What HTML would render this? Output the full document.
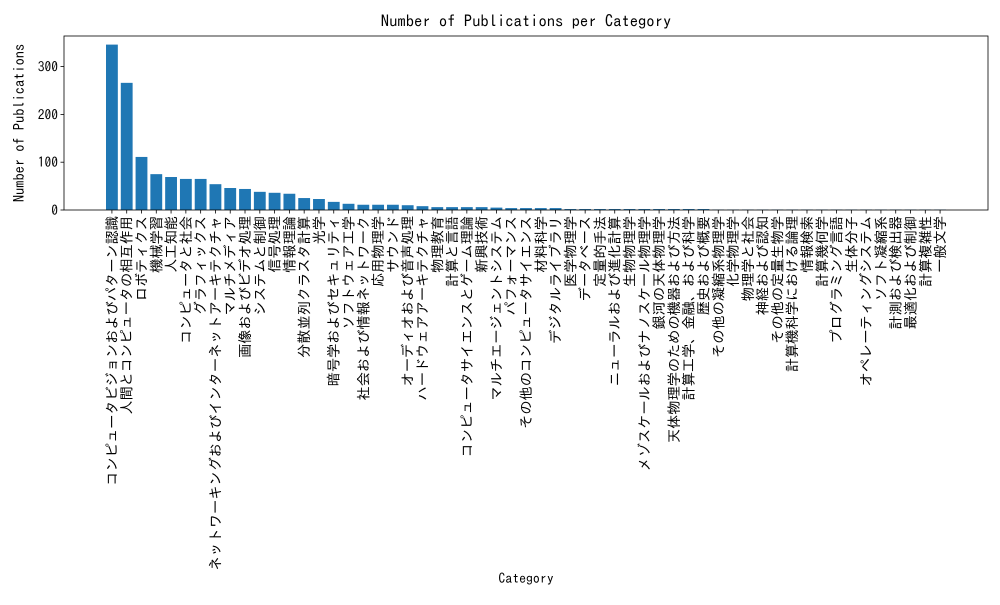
<!DOCTYPE html>
<html><head><meta charset="utf-8"><style>
body{margin:0;background:#fff}
svg{font-family:"IPAGothic","Liberation Sans","Noto Sans CJK JP",sans-serif}
</style></head><body>
<svg id="chart" width="1000" height="600"></svg>
<script>
const categories=["コンピュータビジョンおよびパターン認識","人間とコンピュータの相互作用","ロボティクス","機械学習","人工知能","コンピュータと社会","グラフィックス","ネットワーキングおよびインターネットアーキテクチャ","マルチメディア","画像およびビデオ処理","システムと制御","信号処理","情報理論","分散並列クラスタ計算","光学","暗号学およびセキュリティ","ソフトウェア工学","社会および情報ネットワーク","応用物理学","サウンド","オーディオおよび音声処理","ハードウェアアーキテクチャ","物理教育","計算と言語","コンピュータサイエンスとゲーム理論","新興技術","マルチエージェントシステム","パフォーマンス","その他のコンピュータサイエンス","材料科学","デジタルライブラリ","医学物理学","データベース","定量的手法","ニューラルおよび進化計算","生物物理学","メゾスケールおよびナノスケール物理学","銀河の天体物理学","天体物理学のための機器および方法","計算工学、金融、および科学","歴史および概要","その他の凝縮系物理学","化学物理学","物理学と社会","神経および認知","その他の定量生物学","計算機科学における論理","情報検索","計算幾何学","プログラミング言語","生体分子","オペレーティングシステム","ソフト凝縮系","計測および検出器","最適化および制御","計算複雑性","一般文学"];
const counts=[346,266,111,75,69,65,65,54,46,44,38,36,34,25,23,17,13,11,11,11,10,8,6,6,6,6,5,4,4,4,4,2,2,2,2,2,2,2,2,2,2,1,1,1,1,1,1,1,1,1,1,1,1,1,1,1,1];
const yTicks=[0,100,200,300];
const NS="http://www.w3.org/2000/svg";
const svg=document.getElementById('chart');
const L=64,R=988,T=36,B=210,yMax=364;
const n=categories.length;
const xMin=-0.4-0.05*(n-0.2),xMax=n-0.6+0.05*(n-0.2);
const x=i=>L+(i-xMin)/(xMax-xMin)*(R-L);
const y=v=>B-v/yMax*(B-T);
function mk(t,a){const e=document.createElementNS(NS,t);for(const k in a)e.setAttribute(k,a[k]);svg.appendChild(e);return e;}
const bw=0.8*(R-L)/(xMax-xMin);
counts.forEach((c,i)=>{
 const r=mk('rect',{x:x(i)-bw/2,y:y(c),width:bw,height:B-y(c),fill:'#1f77b4'});
 
 
 const tk=mk('line',{x1:x(i),x2:x(i),y1:B,y2:B+3.5,stroke:'#000','stroke-width':0.8});
 
 
 const t=mk('text',{transform:`translate(${x(i)},${B+6}) rotate(-90)`,'text-anchor':'end','dominant-baseline':'central','font-size':14.2});
 t.textContent=categories[i];
 
 
});
yTicks.forEach(v=>{
 const tk=mk('line',{x1:L-3.5,x2:L,y1:y(v),y2:y(v),stroke:'#000','stroke-width':0.8});
 
 
 const t=mk('text',{x:L-6,y:y(v),'text-anchor':'end','dominant-baseline':'central','font-size':13.5});
 t.textContent=v;
 
 
});
const fr=mk('rect',{x:L,y:T,width:R-L,height:B-T,fill:'none',stroke:'#000','stroke-width':0.8});


const ti=mk('text',{x:(L+R)/2,y:27,'text-anchor':'middle','font-size':16.6});
ti.textContent='Number of Publications per Category';


const xt=mk('text',{x:(L+R)/2,y:583,'text-anchor':'middle','font-size':13.8});
xt.textContent='Category';


const yt=mk('text',{transform:`translate(24,${(T+B)/2}) rotate(-90)`,'text-anchor':'middle','font-size':14.4});
yt.textContent='Number of Publications';


</script>
</body></html>
